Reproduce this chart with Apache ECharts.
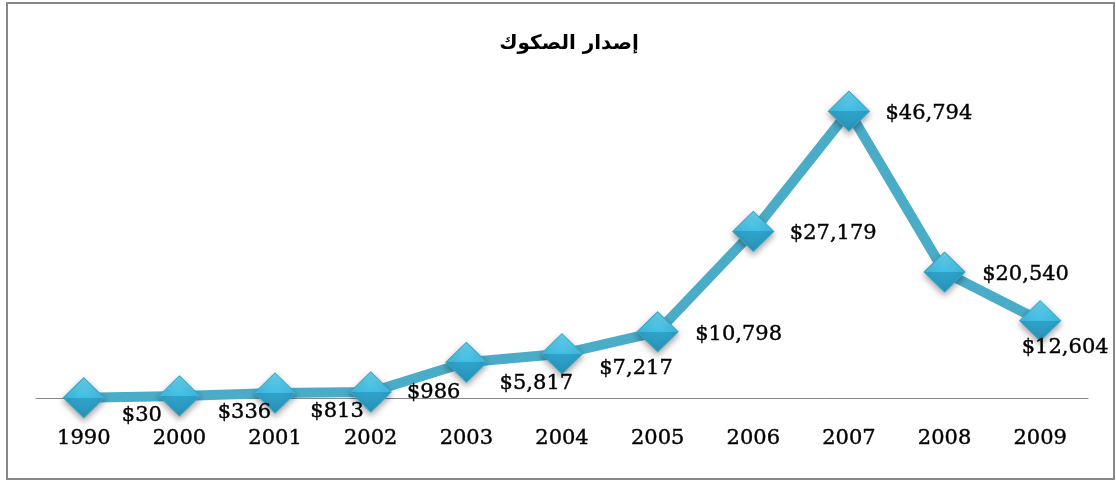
<!DOCTYPE html>
<html>
<head>
<meta charset="utf-8">
<script src="https://cdn.jsdelivr.net/npm/echarts@6/dist/echarts.min.js"></script>
<style>
  html, body { margin: 0; padding: 0; background: #fff; }
  #chart { width: 1116px; height: 482px; }
</style>
</head>
<body>
<div id="chart"></div>
<script>
const years = ["1990", "2000", "2001", "2002", "2003", "2004", "2005", "2006", "2007", "2008", "2009"];
const issuance = [30, 336, 813, 986, 5817, 7217, 10798, 27179, 46794, 20540, 12604];
// where each value label sits, relative to its marker
const labelOffsets = [[58, 18], [65, 17], [62, 19], [63, 1], [70, 21], [74, 15], [81, 3], [80, 2], [80, 2], [81, 2], [25, 27]];

const chart = echarts.init(document.getElementById("chart"));

const fmt = v => "$" + v.toLocaleString("en-US");

chart.setOption({
  backgroundColor: "#fff",
  animation: false,
  title: {
    text: "إصدار الصكوك",
    left: 564,
    top: 29,
    textAlign: "center",
    textStyle: { fontFamily: "DejaVu Sans", fontWeight: "bold", fontSize: 20, color: "#000" }
  },
  graphic: [{
    type: "rect",
    shape: { x: 7, y: 3, width: 1107, height: 476 },
    style: { fill: "none", stroke: "#888", lineWidth: 2 },
    silent: true
  }],
  grid: { left: 36, right: 28, top: 91.5, bottom: 84 },
  xAxis: {
    type: "category",
    data: years,
    boundaryGap: true,
    axisLine: { lineStyle: { color: "#888", width: 1 } },
    axisTick: { show: false },
    axisLabel: {
      color: "#000", fontFamily: "DejaVu Serif", fontSize: 21, margin: 30,
      textBorderColor: "#000", textBorderWidth: 0.4
    }
  },
  yAxis: {
    type: "value",
    min: 0,
    max: 50000,
    show: false,
    splitLine: { show: false }
  },
  series: [{
    type: "line",
    data: issuance.map((v, i) => ({
      value: v,
      label: { offset: labelOffsets[i] }
    })),
    lineStyle: { color: "#4aacc7", width: 10 },
    symbol: "diamond",
    symbolSize: [41, 40],
    itemStyle: {
      color: new echarts.graphic.LinearGradient(0, 0, 0, 1, [
        { offset: 0, color: "#6ad4f0" },
        { offset: 0.5, color: "#40bde3" },
        { offset: 0.5, color: "#2fa3cb" },
        { offset: 1, color: "#2a92b8" }
      ]),
      borderColor: "#3aa6c8",
      borderWidth: 1,
      shadowBlur: 6,
      shadowColor: "rgba(0,0,0,0.35)",
      shadowOffsetY: 3
    },
    label: {
      show: true,
      position: "inside",
      formatter: p => fmt(p.value),
      color: "#000",
      fontFamily: "DejaVu Serif",
      fontSize: 21,
      textBorderColor: "#000",
      textBorderWidth: 0.4
    },
    z: 3
  }]
});
</script>
</body>
</html>
